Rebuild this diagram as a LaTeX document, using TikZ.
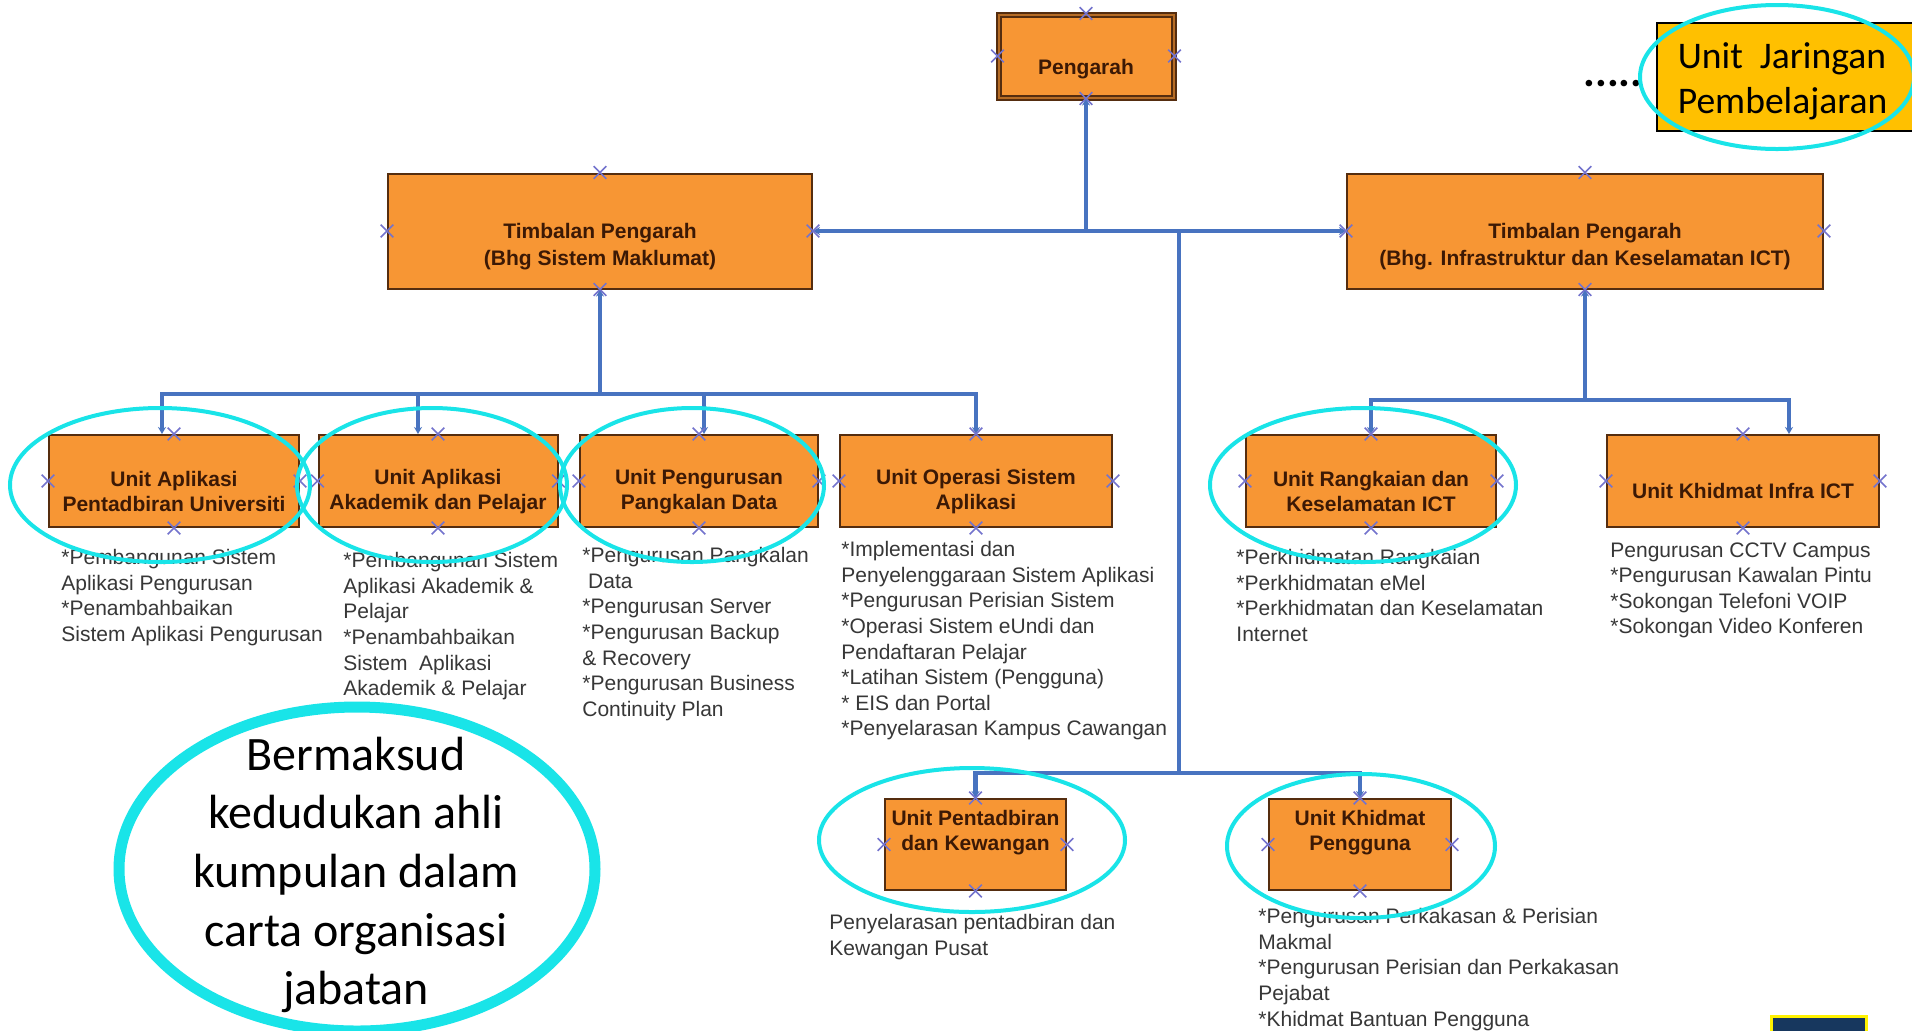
\documentclass[tikz,border=0pt]{standalone}
\usepackage{fontspec}
\setmainfont{Liberation Sans}
\newfontfamily\calfont{Carlito}
\usetikzlibrary{shapes.geometric, shapes.misc, arrows.meta, positioning}
\definecolor{boxfill}{RGB}{247,150,52}
\definecolor{boxline}{RGB}{85,45,15}
\definecolor{boxtext}{RGB}{60,25,5}
\definecolor{linkblue}{RGB}{72,115,192}
\definecolor{ringcyan}{RGB}{25,228,232}
\definecolor{desctext}{RGB}{55,55,55}
\definecolor{markblue}{RGB}{115,115,205}
\definecolor{gold}{RGB}{255,192,0}
\definecolor{navy}{RGB}{23,55,94}

\tikzset{
  >={Stealth[length=3.5pt, width=4pt]},
  unitbox/.style={rectangle, draw=boxline, fill=boxfill, line width=1pt, inner sep=0pt,
    text=boxtext, align=center, font=\bfseries\fontsize{10.5}{12.5}\selectfont},
  desc/.style={anchor=north west, inner sep=0pt, align=left, text=desctext,
    font=\fontsize{10.5}{12.8}\selectfont},
  link/.style={draw=linkblue, line width=2.4pt},
  ring/.style={draw=ringcyan, line width=2pt},
  site/.style={cross out, draw=markblue, line width=0.8pt, minimum size=5.5pt, inner sep=0pt},
}
% invisible struts that push a title down or up inside its box
\newcommand{\padtop}[1]{\rule{0pt}{#1}}
\newcommand{\padbot}[1]{\rule[-#1]{0pt}{#1}}
\newcommand{\sites}[1]{\foreach \s in {north,south,east,west} \node[site] at (#1.\s) {};}

\begin{document}
\begin{tikzpicture}[x=0.5pt, y=-0.5pt]
            \useasboundingbox (0,0) rectangle (1912,1030);
            \fill[white] (0,0) rectangle (1912,1030);

            % Top level
            \node[unitbox, double=boxfill!60!boxline, double distance=1pt, minimum width=87.5pt, minimum height=41.5pt] (peng) at (1086,56) {\padtop{20.5pt}Pengarah};
            \node[unitbox, font=\bfseries\fontsize{10.5}{13.5}\selectfont, minimum width=212pt, minimum height=57.5pt] (tpl) at (600,231) {\padtop{23pt}Timbalan Pengarah\\(Bhg Sistem Maklumat)};
            \node[unitbox, font=\bfseries\fontsize{10.5}{13.5}\selectfont, minimum width=238pt, minimum height=57.5pt] (tpr) at (1585,231) {\padtop{23pt}Timbalan Pengarah\\(Bhg. Infrastruktur dan Keselamatan ICT)};

            % Units
            \node[unitbox, minimum width=125pt, minimum height=46pt] (a1) at (174,481) {\padtop{18pt}Unit Aplikasi\\Pentadbiran Universiti};
            \node[unitbox, minimum width=119.5pt, minimum height=46pt] (a2) at (438,481) {\padtop{18pt}Unit Aplikasi\\Akademik dan Pelajar};
            \node[unitbox, minimum width=119pt, minimum height=46pt] (a3) at (699,481) {\padtop{18pt}Unit Pengurusan\\Pangkalan Data};
            \node[unitbox, minimum width=136pt, minimum height=46pt] (a4) at (976,481) {\padtop{18pt}Unit Operasi Sistem\\Aplikasi};
            \node[unitbox, minimum width=125pt, minimum height=46pt] (r1) at (1371,481) {\padtop{18pt}Unit Rangkaian dan\\Keselamatan ICT};
            \node[unitbox, minimum width=136pt, minimum height=46pt] (r2) at (1743,481) {\padtop{18pt}Unit Khidmat Infra ICT};
            \node[unitbox, minimum width=90.5pt, minimum height=45.5pt] (pk) at (975.5,844.5) {Unit Pentadbiran\\dan Kewangan\padbot{14pt}};
            \node[unitbox, minimum width=91pt, minimum height=45.5pt] (kp) at (1360,844.5) {Unit Khidmat\\Pengguna\padbot{14pt}};

            % Duties
            \node[desc] (a1d) at (61,549) {*Pembangunan Sistem\\Aplikasi Pengurusan\\{}*Penambahbaikan\\Sistem Aplikasi Pengurusan};
            \node[desc] (a2d) at (343,552) {*Pembangunan Sistem\\Aplikasi Akademik \&\\Pelajar\\{}*Penambahbaikan\\Sistem~ Aplikasi\\Akademik \& Pelajar};
            \node[desc] (a3d) at (582,547) {*Pengurusan Pangkalan\\\ Data\\{}*Pengurusan Server\\{}*Pengurusan Backup\\\& Recovery\\{}*Pengurusan Business\\Continuity Plan};
            \node[desc] (a4d) at (841,541) {*Implementasi dan\\Penyelenggaraan Sistem Aplikasi\\{}*Pengurusan Perisian Sistem\\{}*Operasi Sistem eUndi dan\\Pendaftaran Pelajar\\{}*Latihan Sistem (Pengguna)\\{}* EIS dan Portal\\{}*Penyelarasan Kampus Cawangan};
            \node[desc] (r1d) at (1236,549) {*Perkhidmatan Rangkaian\\{}*Perkhidmatan eMel\\{}*Perkhidmatan dan Keselamatan\\Internet};
            \node[desc] (r2d) at (1610,542) {Pengurusan CCTV Campus\\{}*Pengurusan Kawalan Pintu\\{}*Sokongan Telefoni VOIP\\{}*Sokongan Video Konferen};
            \node[desc] (pkd) at (829,914) {Penyelarasan pentadbiran dan\\Kewangan Pusat};
            \node[desc] (kpd) at (1258,908) {*Pengurusan Perkakasan \& Perisian\\Makmal\\{}*Pengurusan Perisian dan Perkakasan\\Pejabat\\{}*Khidmat Bantuan Pengguna};

            % Links
            \draw[link, <->] (tpl.east) -- (tpr.west);
            \draw[link, <-] (peng.south) -- (peng.south |- tpl.east);
            \coordinate (trunk) at (1179,231);
            \coordinate (mid) at (1179,773);
            \draw[link] (trunk) -- (mid);
            \draw[link, <->] (pk.north) |- (mid) -| (kp.north);
            \coordinate (lbus) at (600,394);
            \draw[link, <-] (tpl.south) -- (lbus);
            \draw[link, <->] (a1.north) ++(-12,0) |- (a4.north |- lbus) -- (a4.north);
            \draw[link, <-] (a2.north) ++(-20,0) |- (lbus);
            \draw[link, <-] (a3.north) ++(5,0) |- (lbus);
            \coordinate (rbus) at (1585,400);
            \draw[link, <-] (tpr.south) -- (rbus);
            \draw[link, <-] (r1.north) |- (rbus);
            \draw[link, <-] (r2.north) ++(46,0) |- (rbus);

            % Connection sites
            \foreach \b in {peng,tpl,tpr,a1,a2,a3,a4,r1,r2,pk,kp} {\sites{\b}}

            % New unit
            \node[draw=black, fill=gold, line width=0.8pt, anchor=west, text width=121pt, minimum height=54pt, inner xsep=10.5pt, align=left, font=\calfont\fontsize{18.8}{22.5}\selectfont] (jar) at (1656,77) {\padtop{17pt}Unit\hspace{0.45em}Jaringan\\Pembelajaran};
            \node[font=\calfont\bfseries\fontsize{22}{22}\selectfont, inner sep=0pt] (dots) at (1613,84) {.....};

            % Highlights
            \draw[ring] (160,485) ellipse [x radius=150, y radius=77];
            \draw[ring] (432,485) ellipse [x radius=135, y radius=77];
            \draw[ring] (692,485) ellipse [x radius=132, y radius=77];
            \draw[ring] (1363,485) ellipse [x radius=153, y radius=77];
            \draw[ring] (972,840) ellipse [x radius=153, y radius=72];
            \draw[ring] (1361,846) ellipse [x radius=134, y radius=72];
            \draw[ring] (1777,77) ellipse [x radius=137, y radius=72];
            \draw[ring, line width=5.5pt] (357,869) ellipse [x radius=238, y radius=162];
            \node[font=\calfont\fontsize{24}{29.3}\selectfont, align=center, inner sep=0pt] (note) at (356,875) {Bermaksud\\kedudukan ahli\\kumpulan dalam\\carta organisasi\\jabatan};

            \draw[draw=yellow, line width=1.5pt, fill=navy] (1771,1016) rectangle (1866,1045);
        \end{tikzpicture}
\end{document}
